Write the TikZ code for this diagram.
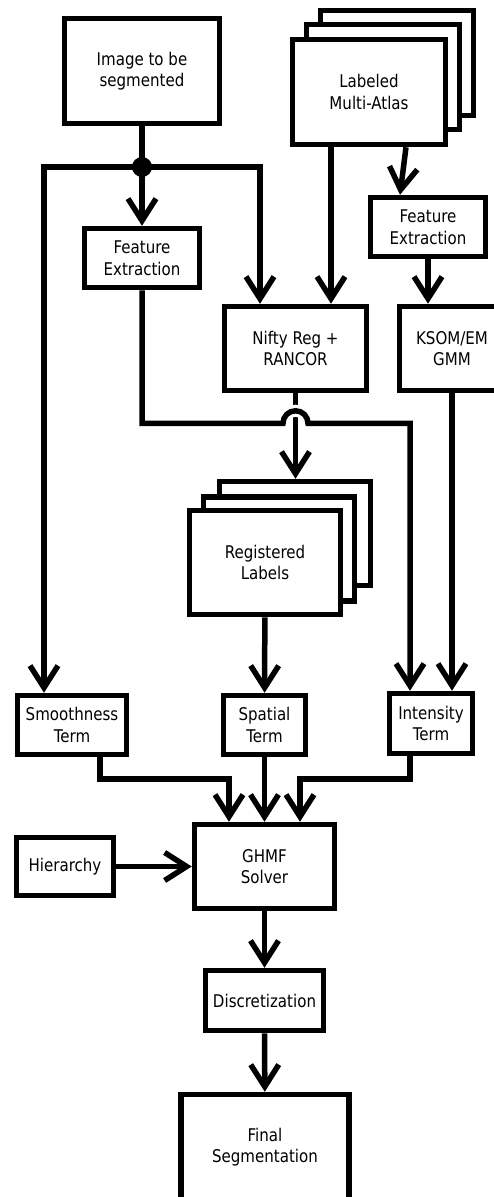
\documentclass[tikz,border=0pt]{standalone}
\usepackage{fontspec}
\setmainfont{DejaVu Sans}[FakeStretch=0.86]
\usetikzlibrary{arrows.meta}

\begin{document}
\begin{tikzpicture}[x=1pt, y=-1pt, line width=5.5pt,
  box/.style={draw, fill=white, line width=5.5pt, align=center, inner sep=0pt,
    font=\fontsize{17.5}{21.5}\selectfont},
  arr/.style={-{Straight Barb[length=22pt, width=28pt]}}]
  \useasboundingbox (0,0) rectangle (493,1197);

  \node[box, minimum width=155, minimum height=105] (img) at (142,71) {Image to be\\segmented};
  \node[box, minimum width=153, minimum height=105] (atlas3) at (397,63) {};
  \node[box, minimum width=153, minimum height=105] (atlas2) at (383,77) {};
  \node[box, minimum width=153, minimum height=105] (atlas) at (369,92) {Labeled\\Multi-Atlas};

  \node[box, minimum width=115, minimum height=59] (fea) at (142,258) {Feature\\Extraction};
  \node[box, minimum width=115, minimum height=59] (feb) at (428,227) {Feature\\Extraction};
  \node[box, minimum width=142, minimum height=84] (nifty) at (295.5,348.5) {Nifty Reg +\\RANCOR};
  \node[box, minimum width=105, minimum height=84] (ksom) at (452,348.5) {KSOM/EM\\GMM};

  \node[box, minimum width=151, minimum height=104] (reg3) at (295,533.5) {};
  \node[box, minimum width=151, minimum height=104] (reg2) at (279,549) {};
  \node[box, minimum width=151, minimum height=104] (reg) at (265,562.5) {Registered\\Labels};

  \node[box, minimum width=109, minimum height=59] (smooth) at (72,725) {Smoothness\\Term};
  \node[box, minimum width=82, minimum height=59] (spatial) at (264.5,725) {Spatial\\Term};
  \node[box, minimum width=83, minimum height=60] (intens) at (431,723.5) {Intensity\\Term};

  \node[box, minimum width=140, minimum height=84] (ghmf) at (264.5,866.5) {GHMF\\Solver};
  \node[box, minimum width=97, minimum height=58] (hier) at (65,866.5) {Hierarchy};
  \node[box, minimum width=118, minimum height=60] (disc) at (264.5,1000.5) {Discretization};
  \node[box, minimum width=168, minimum height=105] (final) at (265,1147) {Final\\Segmentation};

  \coordinate (jn) at (142,167);
  \coordinate (hop) at ([yshift=-30pt]nifty.south);
  \fill (jn) circle (10pt);
  \draw (img) -- (jn);
  \draw[arr] (jn) -- (fea);
  \draw[arr] (jn) -| ([xshift=-28pt]smooth.north);
  \draw[arr] (jn) -| ([xshift=-35.5pt]nifty.north);

  \draw[arr] ([xshift=-38pt]atlas.south) -- ([xshift=-38pt]atlas.south |- nifty.north);
  \draw[arr] ([xshift=37pt]atlas.south) -- ([xshift=-28pt]feb.north);
  \draw[arr] (feb.south) -- (feb.south |- ksom.north);
  \draw[arr] (ksom) -- (ksom |- intens.north);

  \draw[arr] (nifty) -- (nifty |- reg3.north);
  \draw[white, line width=12pt] ([xshift=-12.5pt]hop) arc[start angle=180, end angle=0, radius=12.5pt];
  \draw[arr] (fea) |- ([xshift=-12.5pt]hop) arc[start angle=180, end angle=0, radius=12.5pt]
    -| ([xshift=-21pt]intens.north);
  \draw[arr] (reg) -- (spatial);

  \draw[arr] ([xshift=28pt]smooth.south) |- ([xshift=-35.5pt, yshift=43pt]ghmf.north)
    -- ([xshift=-35.5pt]ghmf.north);
  \draw[arr] (spatial) -- (ghmf);
  \draw[arr] ([xshift=-21pt]intens.south) |- ([xshift=35.5pt, yshift=43pt]ghmf.north)
    -- ([xshift=35.5pt]ghmf.north);
  \draw[arr] (hier) -- (ghmf);
  \draw[arr] (ghmf) -- (disc);
  \draw[arr] (disc) -- (final);
\end{tikzpicture}
\end{document}
